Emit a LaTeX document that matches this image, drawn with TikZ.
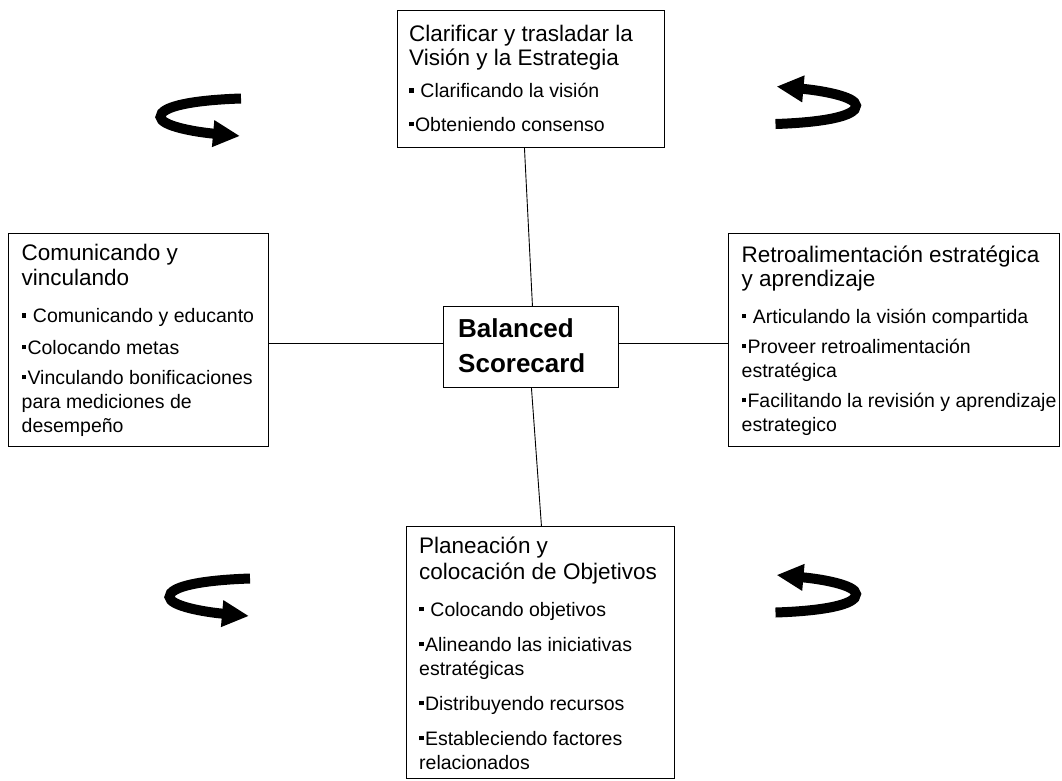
\documentclass[tikz,border=0pt]{standalone}
\usepackage{fontspec}
\setmainfont{Liberation Sans}
\usetikzlibrary{arrows.meta}
\newcommand\bul{\rule[0.24em]{0.24em}{0.24em}\hspace{0.06em}}
\newcommand\gap[1]{\par\vspace{#1}}
\newcommand\ttl{\fontsize{22.5}{24}\selectfont}
\newcommand\itf{\fontsize{19.5}{24}\selectfont}
\newcommand\boxtext[1]{\parbox[t]{330pt}{\setlength\parskip{0pt}\lineskiplimit=-100pt #1}}

\begin{document}
\begin{tikzpicture}[x=1pt,y=-1pt,
  box/.style={draw=black, line width=0.9pt, inner sep=0pt, anchor=north west},
  txt/.style={inner sep=0pt, anchor=base west},
  conn/.style={draw=black, line width=0.9pt},
  curl/.pic={
    \draw[line width=10pt, -{Triangle[length=27pt,width=25pt]}]
      (42,-21.5) .. controls (-4,-20) and (-39,-14) .. (-38.5,-3)
      .. controls (-38,6) and (-4,12) .. (41,16);
  }]
\useasboundingbox (0,0) rectangle (1062,780);
\fill[white] (0,0) rectangle (1062,780);

% boxes
\node[box, minimum width=267pt, minimum height=137pt] (top) at (397,10) {};
\node[box, minimum width=260pt, minimum height=213pt] (lft) at (8,233) {};
\node[box, minimum width=331pt, minimum height=213pt] (rgt) at (728,233) {};
\node[box, minimum width=268pt, minimum height=252pt] (bot) at (406,526) {};
\node[box, minimum width=175pt, minimum height=81pt] (bsc) at (443,306) {};

% texts
\node[txt] (topT) at (409,41) {\boxtext{\ttl Clarificar y trasladar la\\Visión y la Estrategia
  \gap{8.7pt}\itf\bul\ Clarificando la visión
  \gap{9.3pt}\bul Obteniendo consenso}};

\node[txt] (lftT) at (21.5,260) {\boxtext{\fontsize{22.5}{25.5}\selectfont Comunicando y\\vinculando
  \gap{13pt}\itf\bul\ Comunicando y educanto
  \gap{7.5pt}\bul Colocando metas
  \gap{6pt}\bul Vinculando bonificaciones\\para mediciones de\\desempeño}};

\node[txt] (rgtT) at (741.5,262) {\boxtext{\ttl Retroalimentación estratégica\\y aprendizaje
  \gap{13pt}\itf\bul\ Articulando la visión compartida
  \gap{6pt}\bul Proveer retroalimentación\\estratégica
  \gap{6pt}\bul Facilitando la revisión y aprendizaje\\estrategico}};

\node[txt] (botT) at (419,553.3) {\boxtext{\fontsize{22.5}{26}\selectfont Planeación y\\colocación de Objetivos
  \gap{12.7pt}\itf\bul\ Colocando objetivos
  \gap{11pt}\bul Alineando las iniciativas\\estratégicas
  \gap{11pt}\bul Distribuyendo recursos
  \gap{11pt}\bul Estableciendo factores\\relacionados}};

\node[txt] (bscT) at (458,337.3) {\boxtext{\fontsize{26}{35.4}\selectfont\bfseries Balanced\\Scorecard}};

% connectors
\coordinate (hl) at (0,343);
\draw[conn] ([xshift=-6.5pt]top.south) -- ([xshift=1.5pt]bsc.north);
\draw[conn] ([xshift=0.5pt]bsc.south) -- ([xshift=1pt]bot.north);
\draw[conn] (lft.east |- hl) -- (bsc.west |- hl);
\draw[conn] (bsc.east |- hl) -- (rgt.west |- hl);

% curled arrows
\pic at (199,120) {curl};
\pic at (208,600) {curl};
\pic[rotate=180] at (817.5,102.5) {curl};
\pic[rotate=180] at (817.5,591) {curl};
\end{tikzpicture}
\end{document}
